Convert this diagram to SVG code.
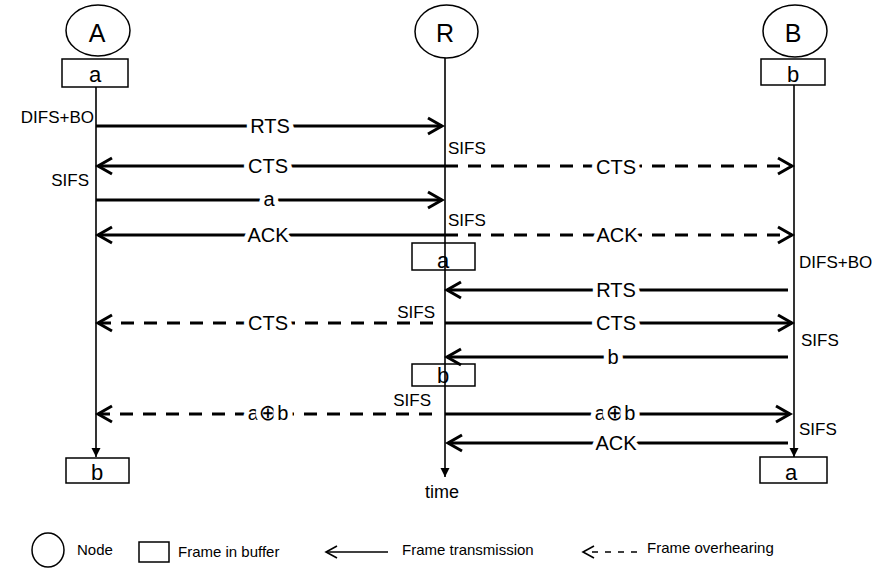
<svg xmlns="http://www.w3.org/2000/svg" width="884" height="569" viewBox="0 0 884 569">
<style>
text{font-family:"Liberation Sans","DejaVu Sans",sans-serif;fill:#000}
.node{fill:#fff;stroke:#000;stroke-width:1.5}
.box{fill:none;stroke:#000;stroke-width:1.5}
.life{stroke:#000;stroke-width:1.6;fill:none}
.msg{stroke:#000;stroke-width:3;fill:none}
.ovh{stroke:#000;stroke-width:3;fill:none;stroke-dasharray:13 10}
.lbl{font-size:20px;text-anchor:middle;stroke:#fff;stroke-width:10;paint-order:stroke;stroke-linejoin:round}
.xor{font-family:"DejaVu Sans",sans-serif;font-size:22px}
.note{font-size:17px}
.nl{font-size:25px;text-anchor:middle}
.bl{font-size:22px;text-anchor:middle}
.leg{font-size:15px}
</style>
<defs>
<marker id="open" markerUnits="userSpaceOnUse" orient="auto" overflow="visible" markerWidth="1" markerHeight="1" refX="0" refY="0">
<path d="M-14,-8 L0,0 L-14,8" fill="none" stroke="#000" stroke-width="3" stroke-dasharray="none"/>
</marker>
<marker id="thin" markerUnits="userSpaceOnUse" orient="auto" overflow="visible" markerWidth="1" markerHeight="1" refX="0" refY="0">
<path d="M-11,-6 L0,0 L-11,6" fill="none" stroke="#000" stroke-width="1.6" stroke-dasharray="none"/>
</marker>
<marker id="tri" markerUnits="userSpaceOnUse" orient="auto" overflow="visible" markerWidth="1" markerHeight="1" refX="0" refY="0">
<path d="M-9,-4.5 L0,0 L-9,4.5 Z" fill="#000" stroke="none"/>
</marker>
</defs>

<g id="lifelines">
<line class="life" x1="96" y1="87" x2="96" y2="457" marker-end="url(#tri)"/>
<line class="life" x1="445" y1="58" x2="445" y2="477" marker-end="url(#tri)"/>
<line class="life" x1="794" y1="85" x2="794" y2="457" marker-end="url(#tri)"/>
</g>

<g id="node-A">
<ellipse class="node" cx="98" cy="30.5" rx="32" ry="25.5"/>
<text class="nl" x="97" y="42">A</text>
<rect class="box" x="62" y="59" width="66" height="28"/>
<text class="bl" x="95" y="82">a</text>
</g>
<g id="node-R">
<ellipse class="node" cx="446.5" cy="31.5" rx="31.5" ry="26.5"/>
<text class="nl" x="445" y="42">R</text>
</g>
<g id="node-B">
<ellipse class="node" cx="795" cy="31" rx="32" ry="26"/>
<text class="nl" x="793" y="42">B</text>
<rect class="box" x="761" y="59" width="64" height="26"/>
<text class="bl" x="793" y="82">b</text>
</g>

<g id="buffers">
<rect class="box" x="412" y="243" width="63" height="27"/>
<text class="bl" x="443" y="268">a</text>
<rect class="box" x="412" y="364" width="63" height="22"/>
<text class="bl" x="443" y="383">b</text>
<rect class="box" x="66" y="458" width="63" height="25"/>
<text class="bl" x="97" y="480">b</text>
<rect class="box" x="760" y="457" width="67" height="26"/>
<text class="bl" x="791" y="480">a</text>
</g>

<g id="connectors">
<line class="msg" x1="96" y1="126" x2="442" y2="126" marker-end="url(#open)"/>
<line class="msg" x1="445" y1="166" x2="98" y2="166" marker-end="url(#open)"/>
<line class="ovh" x1="445" y1="166" x2="792" y2="166" marker-end="url(#open)"/>
<line class="msg" x1="96" y1="200" x2="442" y2="200" marker-end="url(#open)"/>
<line class="msg" x1="445" y1="235" x2="98" y2="235" marker-end="url(#open)"/>
<line class="ovh" x1="445" y1="235" x2="792" y2="235" marker-end="url(#open)"/>
<line class="msg" x1="788" y1="290" x2="447" y2="290" marker-end="url(#open)"/>
<line class="msg" x1="445" y1="323" x2="792" y2="323" marker-end="url(#open)"/>
<line class="ovh" x1="433" y1="323" x2="98" y2="323" marker-end="url(#open)"/>
<line class="msg" x1="788" y1="357" x2="447" y2="357" marker-end="url(#open)"/>
<line class="msg" x1="445" y1="414" x2="790" y2="414" marker-end="url(#open)"/>
<line class="ovh" x1="432" y1="414" x2="98" y2="414" marker-end="url(#open)"/>
<line class="msg" x1="788" y1="443" x2="448" y2="443" marker-end="url(#open)"/>
</g>

<g id="labels">
<text class="lbl" x="270" y="133">RTS</text>
<text class="lbl" x="268" y="173">CTS</text>
<text class="lbl" x="616" y="174">CTS</text>
<text class="lbl" x="269" y="206">a</text>
<text class="lbl" x="268" y="242">ACK</text>
<text class="lbl" x="617" y="242">ACK</text>
<text class="lbl" x="616" y="297">RTS</text>
<text class="lbl" x="268" y="330">CTS</text>
<text class="lbl" x="616" y="330">CTS</text>
<text class="lbl" x="613" y="364">b</text>
<text class="lbl" x="268" y="420">a<tspan class="xor">⊕</tspan>b</text>
<text class="lbl" x="615" y="420">a<tspan class="xor">⊕</tspan>b</text>
<text class="lbl" x="616" y="450">ACK</text>
</g>

<g id="notes">
<text class="note" x="94" y="123" text-anchor="end" font-size="18.5">DIFS+BO</text>
<text class="note" x="89" y="186" text-anchor="end">SIFS</text>
<text class="note" x="448" y="154">SIFS</text>
<text class="note" x="448" y="226">SIFS</text>
<text class="note" x="799" y="268" font-size="18">DIFS+BO</text>
<text class="note" x="435" y="318" text-anchor="end">SIFS</text>
<text class="note" x="801" y="346">SIFS</text>
<text class="note" x="431" y="406" text-anchor="end">SIFS</text>
<text class="note" x="799" y="435">SIFS</text>
<text x="442" y="498" font-size="18" text-anchor="middle">time</text>
</g>

<g id="legend">
<ellipse class="node" cx="48" cy="550" rx="16" ry="17"/>
<text class="leg" x="77" y="555">Node</text>
<rect class="box" x="139" y="542" width="30" height="20"/>
<text class="leg" x="178" y="557">Frame in buffer</text>
<line class="life" x1="388" y1="552" x2="326" y2="552" marker-end="url(#thin)"/>
<text class="leg" x="402" y="555">Frame transmission</text>
<line class="life" x1="637" y1="552" x2="583" y2="552" stroke-dasharray="6 7" marker-end="url(#thin)"/>
<text class="leg" x="647" y="553">Frame overhearing</text>
</g>
</svg>
